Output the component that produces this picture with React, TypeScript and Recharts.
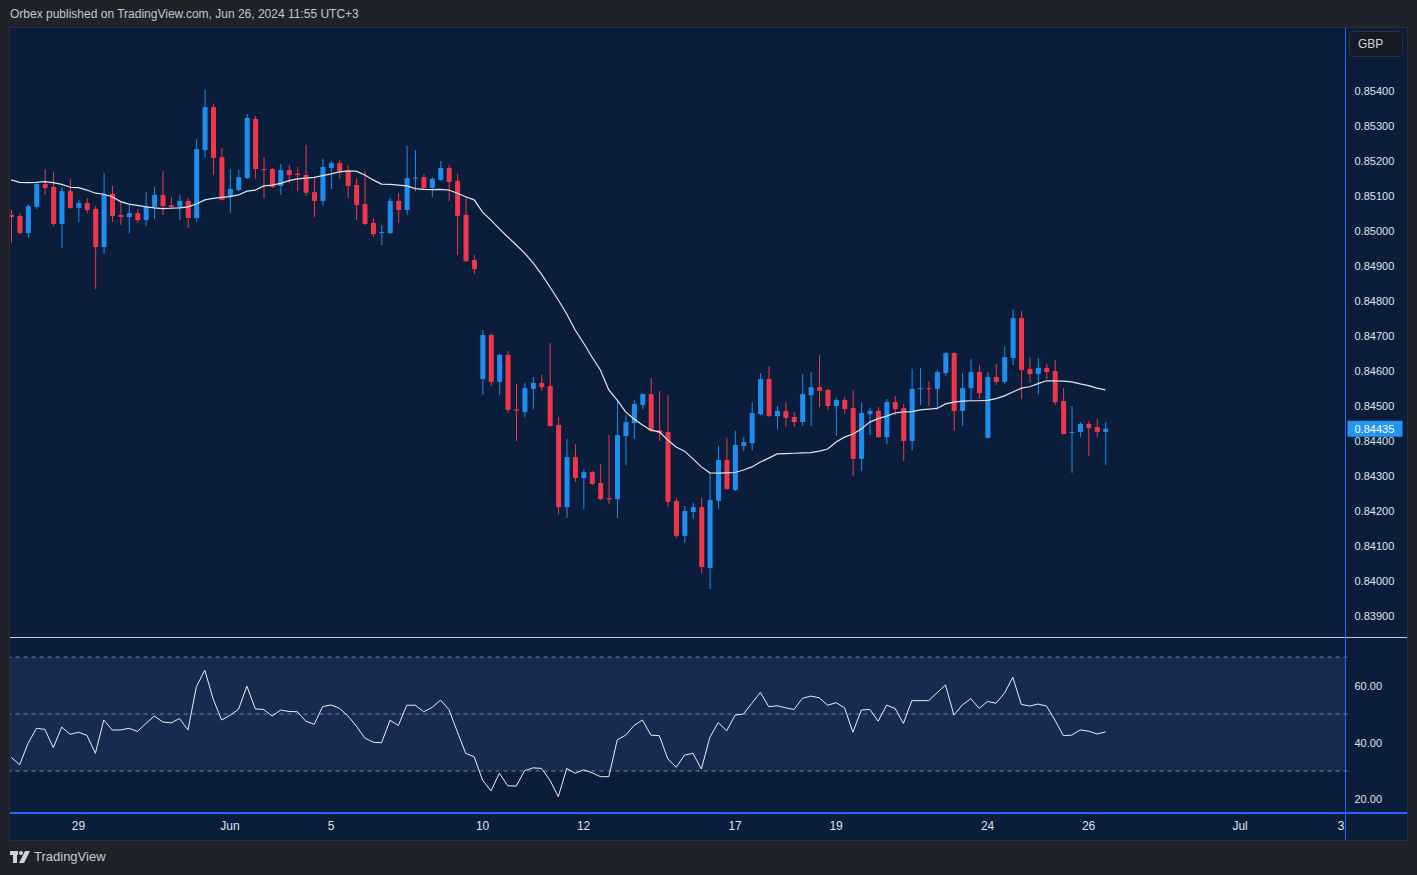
import React from 'react';
import { ComposedChart, Bar, Line, XAxis, YAxis, ReferenceArea, ReferenceLine } from 'recharts';

// 4h candles, EUR/GBP, May 27 16:00 -> Jun 26 08:00 (UTC+3)
const OPEN = [
  0.85046, 0.85043, 0.84994, 0.85069, 0.85134, 0.85126, 0.8502, 0.85114, 0.85066, 0.8508,
  0.85063, 0.84954, 0.85106, 0.85046, 0.8504, 0.85051, 0.85031, 0.85069, 0.85103, 0.85074,
  0.85069, 0.85086, 0.85037, 0.85231, 0.85354, 0.85211, 0.851, 0.85117, 0.85151, 0.8532,
  0.85177, 0.85177, 0.85129, 0.85174, 0.85164, 0.8516, 0.85111, 0.85086, 0.8518, 0.85194,
  0.85174, 0.85131, 0.85077, 0.85023, 0.84994, 0.84994, 0.85086, 0.8506, 0.8515, 0.85154,
  0.85123, 0.85146, 0.8518, 0.85143, 0.85046, 0.84917, 0.84577, 0.84703, 0.84569, 0.84646,
  0.8449, 0.84483, 0.84549, 0.84566, 0.84557, 0.84446, 0.84211, 0.84354, 0.84294, 0.84311,
  0.8428, 0.84237, 0.84234, 0.84414, 0.84451, 0.84503, 0.84534, 0.84431, 0.84426, 0.84229,
  0.84129, 0.84197, 0.84211, 0.84037, 0.84229, 0.84346, 0.8426, 0.84386, 0.84394, 0.84477,
  0.84577, 0.84471, 0.84486, 0.84469, 0.84454, 0.84531, 0.84554, 0.84546, 0.845, 0.84517,
  0.84494, 0.84349, 0.84477, 0.84486, 0.84411, 0.84511, 0.84494, 0.844, 0.84549, 0.84551,
  0.84549, 0.84594, 0.84651, 0.84486, 0.84551, 0.84597, 0.84409, 0.84583, 0.84569, 0.84637,
  0.84751, 0.84606, 0.84591, 0.84609, 0.846, 0.84514, 0.84423, 0.84426, 0.84449, 0.8444,
  0.84426,
];
const HIGH = [
  0.8506, 0.85051, 0.85077, 0.85137, 0.85177, 0.85169, 0.85126, 0.85149, 0.85089, 0.85094,
  0.85071, 0.85166, 0.85129, 0.85086, 0.85077, 0.85063, 0.85111, 0.85126, 0.85171, 0.85097,
  0.85103, 0.85094, 0.85263, 0.85403, 0.85363, 0.85237, 0.85177, 0.85174, 0.85334, 0.85329,
  0.85211, 0.8518, 0.85191, 0.85189, 0.85183, 0.85246, 0.85154, 0.85206, 0.852, 0.85203,
  0.85189, 0.85151, 0.85171, 0.85037, 0.85017, 0.85094, 0.85109, 0.85243, 0.85231, 0.85163,
  0.85154, 0.852, 0.85189, 0.85163, 0.851, 0.84931, 0.84717, 0.84706, 0.84649, 0.84657,
  0.84563, 0.84566, 0.84583, 0.84589, 0.8468, 0.84469, 0.84406, 0.84391, 0.8432, 0.84314,
  0.84334, 0.84417, 0.84517, 0.84474, 0.84517, 0.84537, 0.8458, 0.84543, 0.84531, 0.84237,
  0.84214, 0.84223, 0.84237, 0.84309, 0.84386, 0.84409, 0.84429, 0.84411, 0.84511, 0.84594,
  0.84614, 0.845, 0.84511, 0.84483, 0.84591, 0.84597, 0.84646, 0.84549, 0.84523, 0.84526,
  0.84546, 0.84511, 0.84494, 0.84497, 0.8452, 0.84529, 0.84506, 0.84606, 0.84609, 0.84571,
  0.84603, 0.84654, 0.84654, 0.84594, 0.84634, 0.84617, 0.84597, 0.8462, 0.84671, 0.84777,
  0.84771, 0.8464, 0.84637, 0.8462, 0.84631, 0.84551, 0.845, 0.84454, 0.84457, 0.84463,
  0.84454,
];
const LOW = [
  0.84966, 0.84991, 0.8498, 0.85063, 0.85103, 0.85014, 0.84951, 0.85063, 0.85026, 0.85051,
  0.84834, 0.84934, 0.85026, 0.85017, 0.84993, 0.85023, 0.85014, 0.85034, 0.85046, 0.85063,
  0.85031, 0.85009, 0.85026, 0.85211, 0.8516, 0.85087, 0.85051, 0.85114, 0.85149, 0.85149,
  0.85094, 0.85123, 0.85103, 0.85137, 0.85114, 0.851, 0.8504, 0.85071, 0.8512, 0.85149,
  0.85094, 0.85031, 0.85017, 0.84983, 0.8496, 0.84991, 0.85023, 0.85046, 0.85114, 0.8512,
  0.85097, 0.85143, 0.85086, 0.84931, 0.84911, 0.84877, 0.84531, 0.84557, 0.84531, 0.8448,
  0.844, 0.84469, 0.84491, 0.84543, 0.8444, 0.84191, 0.8418, 0.84283, 0.84206, 0.84274,
  0.84231, 0.8422, 0.8418, 0.84331, 0.84406, 0.84491, 0.84426, 0.844, 0.84211, 0.84123,
  0.84109, 0.84177, 0.84023, 0.83977, 0.84206, 0.8426, 0.84257, 0.84371, 0.84374, 0.84474,
  0.84469, 0.84434, 0.8444, 0.8444, 0.84443, 0.84443, 0.84497, 0.84489, 0.84414, 0.84477,
  0.843, 0.84314, 0.84417, 0.84409, 0.84391, 0.84474, 0.84343, 0.84374, 0.84503, 0.845,
  0.84491, 0.84586, 0.84429, 0.84443, 0.84514, 0.8452, 0.84407, 0.8456, 0.84563, 0.84617,
  0.8452, 0.84566, 0.84534, 0.84577, 0.84503, 0.84419, 0.84309, 0.84411, 0.84357, 0.84411,
  0.84331,
];
const CLOSE = [
  0.8504, 0.84994, 0.85071, 0.85134, 0.85123, 0.8502, 0.85114, 0.85066, 0.8508, 0.8506,
  0.84954, 0.85106, 0.85043, 0.8504, 0.85051, 0.85031, 0.85071, 0.85103, 0.85071, 0.85069,
  0.85086, 0.85037, 0.85234, 0.85354, 0.85209, 0.85089, 0.8512, 0.85154, 0.85323, 0.85177,
  0.85174, 0.85126, 0.85174, 0.8516, 0.8516, 0.85109, 0.85086, 0.85183, 0.85194, 0.85171,
  0.85129, 0.85074, 0.8502, 0.84991, 0.84997, 0.85086, 0.8506, 0.85151, 0.85153, 0.85123,
  0.85149, 0.8518, 0.8514, 0.85043, 0.84914, 0.84891, 0.84703, 0.84569, 0.84646, 0.84489,
  0.84487, 0.84551, 0.84566, 0.84554, 0.84443, 0.84211, 0.84354, 0.84294, 0.84311, 0.84277,
  0.84234, 0.84233, 0.84417, 0.84454, 0.84506, 0.84534, 0.84429, 0.84423, 0.84226, 0.84129,
  0.842, 0.84211, 0.8404, 0.84231, 0.84346, 0.84263, 0.84389, 0.84397, 0.8448, 0.84577,
  0.84471, 0.84486, 0.84466, 0.84454, 0.84534, 0.84554, 0.84543, 0.845, 0.84517, 0.84491,
  0.84349, 0.8448, 0.84486, 0.84411, 0.84511, 0.84491, 0.844, 0.84549, 0.84551, 0.84549,
  0.84597, 0.84651, 0.84486, 0.84551, 0.84597, 0.84537, 0.84583, 0.84569, 0.8464, 0.84751,
  0.84603, 0.84591, 0.84609, 0.84597, 0.84511, 0.8442, 0.84426, 0.84449, 0.84437, 0.84426,
  0.84435,
];
// moving average overlay
const MA = [
  0.85146, 0.85139, 0.85138, 0.85139, 0.85141, 0.85138, 0.85133, 0.85125, 0.85124, 0.85117,
  0.85108, 0.85105, 0.85098, 0.85084, 0.85077, 0.85073, 0.85069, 0.85066, 0.85064, 0.85065,
  0.85066, 0.85069, 0.85077, 0.85089, 0.85093, 0.85096, 0.85098, 0.85103, 0.85114, 0.85117,
  0.85129, 0.85131, 0.85136, 0.85144, 0.85149, 0.85151, 0.85153, 0.85158, 0.85163, 0.85169,
  0.85171, 0.85171, 0.8516, 0.85146, 0.85134, 0.85133, 0.85131, 0.85129, 0.85121, 0.85119,
  0.85118, 0.85119, 0.85117, 0.85108, 0.85098, 0.85089, 0.85054, 0.85031, 0.85006, 0.84983,
  0.8496, 0.84937, 0.84909, 0.84877, 0.8484, 0.84803, 0.84763, 0.84717, 0.8468, 0.8464,
  0.84603, 0.84546, 0.84517, 0.84483, 0.84463, 0.84446, 0.84431, 0.84426, 0.84403, 0.84383,
  0.84371, 0.84349, 0.84326, 0.84309, 0.84308, 0.84309, 0.8431, 0.84317, 0.84326, 0.8434,
  0.84351, 0.84363, 0.84364, 0.84365, 0.84366, 0.84367, 0.84371, 0.84377, 0.84397, 0.84411,
  0.8442, 0.84434, 0.84454, 0.84464, 0.84471, 0.8448, 0.84483, 0.84484, 0.84489, 0.84491,
  0.84493, 0.84506, 0.84511, 0.84514, 0.84515, 0.84515, 0.84516, 0.84521, 0.84529, 0.8454,
  0.84551, 0.84555, 0.84564, 0.84572, 0.84572, 0.84571, 0.84569, 0.84563, 0.84558, 0.84551,
  0.84546,
];
const RSI = [
  34.8, 32.2, 39.7, 45, 44.6, 38.2, 45.4, 42.9, 43.6, 42.5,
  36.2, 47.9, 44.4, 44.4, 45, 43.9, 46.7, 49.3, 47.2, 46.9,
  48.4, 44.4, 59.6, 65.4, 55.2, 47.9, 49.6, 51.6, 59.8, 51.8,
  51.6, 49.3, 51.4, 50.9, 50.8, 47.5, 46.4, 52.6, 53.2, 52,
  49.3, 45.8, 41.6, 40.1, 39.9, 47.8, 46, 53.1, 53.1, 50.8,
  52.3, 54.9, 51.6, 43.8, 36.2, 35, 26.8, 23, 29.2, 24.8,
  24.7, 30.1, 31.1, 30.9, 26.8, 21, 30.9, 29.2, 30.4, 29.4,
  28, 28, 40.9, 42.6, 46, 47.9, 42.6, 42.4, 34.3, 31.3,
  35.6, 36.2, 30.7, 41.8, 47, 44.1, 49.6, 50, 53.8, 57.6,
  52.6, 52.9, 52.2, 51.6, 55.5, 56.3, 55.7, 53.1, 54, 52.2,
  43.6, 51.4, 51.6, 47.5, 53.1, 52, 46.7, 54.7, 54.7, 54.7,
  57.5, 60.2, 49.6, 53.2, 55.4, 52, 54.4, 53.8, 57.3, 62.9,
  53.4, 52.8, 53.5, 52.8, 47.9, 42.4, 42.6, 44.4, 44, 43,
  43.7,
];

const PRICE_TICKS = [
  0.839, 0.84, 0.841, 0.842, 0.843, 0.844, 0.845, 0.846, 0.847, 0.848,
  0.849, 0.85, 0.851, 0.852, 0.853, 0.854,
];
const LAST_PRICE = 0.84435;
const RSI_TICKS = [20, 40, 60];
const RSI_LEVELS = [70, 50, 30];
const DATE_SLOTS = [8, 26, 38, 56, 68, 86, 98, 116, 128, 146, 158];
const DATE_LABELS = ['29', 'Jun', '5', '10', '12', '17', '19', '24', '26', 'Jul', '3'];
const SLOT_COUNT = 159;

const UP = '#1f8def';
const DOWN = '#f0364a';
const BG = '#0a1e3b';
const FRAME = '#1f2229';
const BAND = '#172a50';
const TEXT = '#dfe2ea';
const BLUE_LINE = '#2962ff';
const FONT = '"Liberation Sans", Arial, sans-serif';

const rows = Array.from({ length: SLOT_COUNT }, (_, i) => ({
  i,
  open: OPEN[i],
  high: HIGH[i],
  low: LOW[i],
  close: CLOSE[i],
  ma: MA[i],
  rsi: RSI[i],
}));

const renderCandle = (props: any) => {
  const { x, y, width, height, payload } = props;
  if (!payload || payload.open == null) return <g />;
  const { open, close, high, low } = payload;
  const top = Math.min(y, y + height);
  const h = Math.abs(height);
  const k = h / (high - low);
  const cx = x + width / 2;
  const color = close >= open ? UP : DOWN;
  const bodyTop = top + (high - Math.max(open, close)) * k;
  const bodyH = Math.max(1, Math.abs(open - close) * k);
  return (
    <g>
      <line x1={cx} x2={cx} y1={top} y2={top + h} stroke={color} strokeWidth={1} />
      <rect x={x} y={bodyTop} width={width} height={bodyH} fill={color} />
    </g>
  );
};

const PriceTick = (props: any) => {
  const { x, y, payload } = props;
  const v = payload.value;
  if (v === LAST_PRICE) {
    return (
      <g>
        <rect x={x - 8} y={y - 8} width={55} height={16} fill="#2196f3" />
        <text x={x - 1} y={y} dy={4} fill="#ffffff" fontSize={11} fontFamily={FONT}>
          {v.toFixed(5)}
        </text>
      </g>
    );
  }
  return (
    <text x={x - 1} y={y} dy={4} fill={TEXT} fontSize={11} fontFamily={FONT}>
      {v.toFixed(5)}
    </text>
  );
};

const RsiTick = (props: any) => {
  const { x, y, payload } = props;
  return (
    <text x={x - 1} y={y} dy={4} fill={TEXT} fontSize={11} fontFamily={FONT}>
      {payload.value.toFixed(2)}
    </text>
  );
};

const DateTick = (props: any) => {
  const { x, y, payload } = props;
  const k = DATE_SLOTS.indexOf(payload.value);
  return (
    <text x={x} y={y} dy={10} textAnchor="middle" fill={TEXT} fontSize={12} fontFamily={FONT}>
      {k >= 0 ? DATE_LABELS[k] : ''}
    </text>
  );
};

const abs = (l: number, t: number, w: number, h: number, extra: any = {}) => ({
  position: 'absolute' as const,
  left: l,
  top: t,
  width: w,
  height: h,
  ...extra,
});

export default function App() {
  return (
    <div style={{ position: 'fixed', left: 0, top: 0, width: 1417, height: 875, background: FRAME, fontFamily: FONT, overflow: 'hidden' }}>
      <div style={{ position: 'absolute', left: 10, top: 7, fontSize: 12, color: '#c3c6ce', whiteSpace: 'nowrap' }}>
        Orbex published on TradingView.com, Jun 26, 2024 11:55 UTC+3
      </div>

      <div style={abs(9, 27, 1399, 814, { background: BG, border: '1px solid #2a2e39', boxSizing: 'border-box' })} />

      {/* price pane */}
      <div style={abs(10, 28, 1396, 609, { overflow: 'hidden' })}>
        <div style={{ position: 'absolute', left: -3.5, top: 0 }}>
          <ComposedChart width={1400.5} height={609} data={rows} margin={{ top: 0, right: 0, bottom: 0, left: 0 }}>
            <XAxis dataKey="i" type="category" scale="band" hide padding={{ left: 0, right: 2.2 }} />
            <YAxis
              orientation="right"
              width={60}
              domain={[0.8384, 0.8558]}
              allowDataOverflow
              ticks={[...PRICE_TICKS, LAST_PRICE]}
              interval={0}
              axisLine={false}
              tickLine={false}
              tick={PriceTick}
            />
            <Bar
              dataKey={(d: any) => (d.high == null ? null : [d.low, d.high])}
              barSize={5}
              shape={renderCandle}
              isAnimationActive={false}
            />
            <Line dataKey="ma" stroke="#e3e5ea" strokeWidth={1.2} dot={false} isAnimationActive={false} />
          </ComposedChart>
        </div>
      </div>

      <div style={abs(10, 637, 1397, 1, { background: '#c9ccd4' })} />

      {/* RSI pane + time axis */}
      <div style={abs(10, 638, 1396, 202, { overflow: 'hidden' })}>
        <div style={{ position: 'absolute', left: -3.5, top: 0 }}>
          <ComposedChart width={1400.5} height={202} data={rows} margin={{ top: 0, right: 0, bottom: 0, left: 0 }}>
            <XAxis
              dataKey="i"
              type="category"
              scale="band"
              padding={{ left: 0, right: 2.2 }}
              height={28}
              ticks={DATE_SLOTS}
              interval={0}
              axisLine={false}
              tickLine={false}
              tick={DateTick}
            />
            <YAxis
              orientation="right"
              width={60}
              domain={[15.6, 76.7]}
              allowDataOverflow
              ticks={RSI_TICKS}
              interval={0}
              axisLine={false}
              tickLine={false}
              tick={RsiTick}
            />
            <ReferenceArea y1={30} y2={70} fill={BAND} fillOpacity={1} stroke="none" />
            {RSI_LEVELS.map((lv) => (
              <ReferenceLine key={lv} y={lv} stroke="#7d8396" strokeDasharray="4 4" strokeWidth={1} />
            ))}
            <Line dataKey="rsi" stroke="#eceef2" strokeWidth={1} dot={false} isAnimationActive={false} />
          </ComposedChart>
        </div>
      </div>

      <div style={abs(10, 812, 1397, 1.5, { background: BLUE_LINE })} />
      <div style={abs(1345, 28, 1, 812, { background: BLUE_LINE })} />

      <div
        style={abs(1349, 31, 54, 26, {
          background: '#161a24',
          border: '1px solid #2c303c',
          borderRadius: 4,
          boxSizing: 'border-box',
          color: '#d1d4dc',
          fontSize: 12,
          lineHeight: '24px',
          paddingLeft: 8,
        })}
      >
        GBP
      </div>

      <div style={{ position: 'absolute', left: 10, top: 849, display: 'flex', alignItems: 'center', gap: 4 }}>
        <svg width={20} height={14} viewBox="0 0 20 14">
          <rect x={0} y={1} width={8} height={4} fill="#d1d4dc" />
          <rect x={3} y={1} width={4} height={12} fill="#d1d4dc" />
          <circle cx={11} cy={3} r={2} fill="#d1d4dc" />
          <polygon points="15,1 20,1 14,13 9,13" fill="#d1d4dc" />
        </svg>
        <span style={{ color: '#c8cbd3', fontSize: 13 }}>TradingView</span>
      </div>
    </div>
  );
}
